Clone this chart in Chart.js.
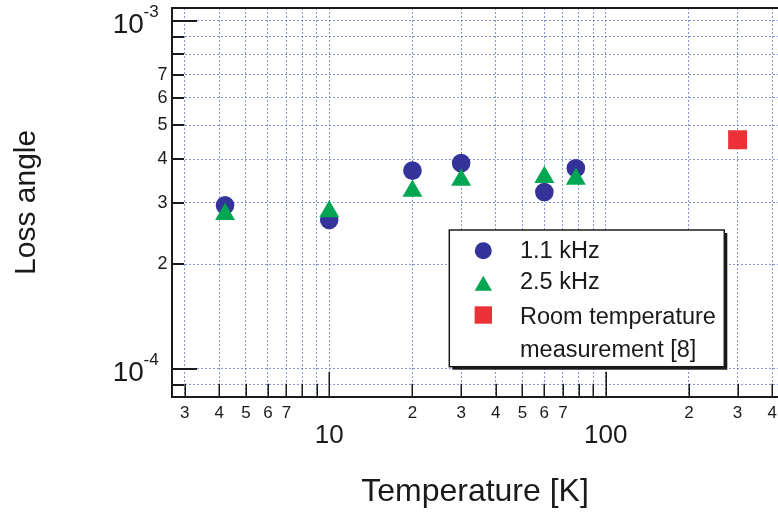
<!DOCTYPE html>
<html>
<head>
<meta charset="utf-8">
<script src="https://cdn.jsdelivr.net/npm/chart.js@4.4.1/dist/chart.umd.min.js"></script>
<style>
  html, body { margin: 0; padding: 0; background: #fff; }
  #c { display: block; }
</style>
</head>
<body>
<canvas id="c" width="778" height="513"></canvas>
<script>
// 数据：温度 [K] 与损耗角
const temps11kHz = [4.2, 10, 20, 30, 60, 78];
const loss11kHz = [2.95e-4, 2.68e-4, 3.71e-4, 3.90e-4, 3.22e-4, 3.77e-4];
const temps25kHz = [4.2, 10, 20, 30, 60, 78];
const loss25kHz = [2.78e-4, 2.83e-4, 3.24e-4, 3.49e-4, 3.55e-4, 3.51e-4];
const tempsRoom = [300];
const lossRoom = [4.55e-4];

// 刻度
const xTickValues = [3, 4, 5, 6, 7, 8, 9, 10, 20, 30, 40, 50, 60, 70, 80, 90, 100, 200, 300, 400];
const xTickLabels = ['3', '4', '5', '6', '7', '', '', '10', '2', '3', '4', '5', '6', '7', '', '', '100', '2', '3', '4'];
const yTickValues = [9e-5, 1e-4, 2e-4, 3e-4, 4e-4, 5e-4, 6e-4, 7e-4, 8e-4, 9e-4, 1e-3];
const yTickLabels = ['', '', '2', '3', '4', '5', '6', '7', '', '', ''];
const yDecadeValues = [1e-4, 1e-3];
const yDecadeExponents = ['-4', '-3'];

const legendLabels = [['1.1 kHz'], ['2.5 kHz'], ['Room temperature', 'measurement [8]']];

const FONT = "'Liberation Sans', Arial, Helvetica, sans-serif";
const INK = '#1a1a1a';
const GRID = 'rgba(105,120,205,0.8)';
Chart.defaults.font.family = FONT;
Chart.defaults.color = INK;

function isDecade(v) {
  if (v === undefined || v === null) return false;
  const l = Math.log10(v);
  return Math.abs(l - Math.round(l)) < 1e-9;
}

function toPoints(xs, ys) {
  return xs.map((x, i) => ({ x, y: ys[i] }));
}

// 画刻度线、上边框、10^n 标签和图例
const framePlugin = {
  id: 'frame',
  beforeDatasetsDraw(chart) {
    const { ctx, chartArea: a, scales: { x, y } } = chart;
    ctx.save();
    ctx.strokeStyle = INK;
    ctx.lineWidth = 1.5;
    xTickValues.forEach((v) => {
      const px = Math.round(x.getPixelForValue(v)) + 0.25;
      const len = isDecade(v) ? 25 : 13;
      ctx.beginPath();
      ctx.moveTo(px, a.bottom);
      ctx.lineTo(px, a.bottom - len);
      ctx.stroke();
    });
    ctx.lineWidth = 2;
    yTickValues.forEach((v) => {
      const py = Math.round(y.getPixelForValue(v));
      const len = isDecade(v) ? 25 : 12;
      ctx.beginPath();
      ctx.moveTo(a.left, py);
      ctx.lineTo(a.left + len, py);
      ctx.stroke();
    });
    // 上边框
    ctx.beginPath();
    ctx.moveTo(a.left - 1, a.top);
    ctx.lineTo(a.right, a.top);
    ctx.stroke();

    // y 轴 10^n 标签
    ctx.fillStyle = INK;
    ctx.textBaseline = 'middle';
    ctx.textAlign = 'left';
    yDecadeValues.forEach((v, i) => {
      const py = y.getPixelForValue(v);
      ctx.font = `28px ${FONT}`;
      ctx.fillText('10', a.left - 59.3, py + 4.3);
      ctx.font = `17px ${FONT}`;
      ctx.fillText(yDecadeExponents[i], a.left - 28.5, py - 8.5);
    });
    ctx.restore();
  },
  afterDatasetsDraw(chart) {
    const { ctx, chartArea: a } = chart;
    const bx = a.left + 277.3, by = a.top + 222, bw = 275, bh = 136.7;
    ctx.save();
    ctx.fillStyle = INK;
    ctx.fillRect(bx + 3, by + 3, bw, bh);
    ctx.fillStyle = '#fff';
    ctx.fillRect(bx, by, bw, bh);
    ctx.strokeStyle = INK;
    ctx.lineWidth = 1.5;
    ctx.strokeRect(bx, by, bw, bh);

    const markerX = bx + 34;
    const markerY = [by + 20.7, by + 55.8, by + 85];
    const markerR = [8.5, 10, 12.3];
    const baselines = [[by + 27.7], [by + 59.3], [by + 94, by + 126.7]];
    chart.data.datasets.forEach((ds, i) => {
      const style = { pointStyle: ds.pointStyle, radius: markerR[i], rotation: 0, borderWidth: 0 };
      ctx.fillStyle = ds.backgroundColor;
      ctx.strokeStyle = ds.backgroundColor;
      Chart.helpers.drawPoint(ctx, style, markerX, markerY[i]);
      ctx.fillStyle = INK;
      ctx.font = `23.5px ${FONT}`;
      ctx.textAlign = 'left';
      ctx.textBaseline = 'alphabetic';
      legendLabels[i].forEach((t, j) => ctx.fillText(t, bx + 70.7, baselines[i][j]));
    });
    ctx.restore();
  }
};

const ctx = document.getElementById('c').getContext('2d');
const chart = new Chart(ctx, {
  type: 'scatter',
  data: {
    datasets: [
      {
        label: '1.1 kHz',
        data: toPoints(temps11kHz, loss11kHz),
        pointStyle: 'circle',
        pointRadius: 9.3,
        backgroundColor: '#333399',
        borderWidth: 0,
        order: 3,
      },
      {
        label: '2.5 kHz',
        data: toPoints(temps25kHz, loss25kHz),
        pointStyle: 'triangle',
        pointRadius: 11.5,
        backgroundColor: '#00a651',
        borderWidth: 0,
        order: 2,
      },
      {
        label: 'Room temperature measurement [8]',
        data: toPoints(tempsRoom, lossRoom),
        pointStyle: 'rect',
        pointRadius: 13.4,
        backgroundColor: '#ed3237',
        borderWidth: 0,
        order: 1,
      },
    ],
  },
  options: {
    responsive: false,
    animation: false,
    devicePixelRatio: 1,
    layout: { autoPadding: false, padding: { top: 8, right: 0, bottom: 0, left: 0 } },
    plugins: {
      legend: { display: false },
      tooltip: { enabled: false },
    },
    scales: {
      x: {
        type: 'logarithmic',
        position: 'bottom',
        min: 2.7,
        max: 420,
        afterBuildTicks: (scale) => {
          scale.ticks = xTickValues.map((v) => ({ value: v }));
        },
        afterFit: (scale) => {
          scale.height = 116.3;
          scale.paddingLeft = 0;
          scale.paddingRight = 0;
        },
        grid: {
          color: GRID,
          lineWidth: 1,
          drawTicks: false,
        },
        border: { display: true, color: INK, width: 2, dash: [2, 2] },
        ticks: {
          autoSkip: false,
          maxRotation: 0,
          padding: 6.6,
          color: INK,
          font: (c) => (c.tick && isDecade(c.tick.value)
            ? { size: 26, lineHeight: '65.8px' }
            : { size: 17 }),
          callback: (value, index) => xTickLabels[index],
        },
        title: {
          display: true,
          text: 'Temperature [K]',
          color: INK,
          font: { size: 32 },
          padding: { top: 0, bottom: 1.5 },
        },
      },
      y: {
        type: 'logarithmic',
        position: 'left',
        min: 8.325e-5,
        max: 1.087e-3,
        afterBuildTicks: (scale) => {
          scale.ticks = yTickValues.map((v) => ({ value: v }));
        },
        afterFit: (scale) => {
          scale.width = 172;
          scale.paddingTop = 0;
          scale.paddingBottom = 0;
        },
        grid: {
          color: GRID,
          lineWidth: 1,
          drawTicks: false,
        },
        border: { display: true, color: INK, width: 2, dash: [2, 2] },
        ticks: {
          autoSkip: false,
          padding: 4.5,
          color: INK,
          font: { size: 18 },
          callback: (value, index) => yTickLabels[index],
        },
        title: {
          display: true,
          text: 'Loss angle',
          color: INK,
          font: { size: 30 },
          padding: { top: 8.3, bottom: 0 },
        },
      },
    },
  },
  plugins: [framePlugin],
});
</script>
</body>
</html>
